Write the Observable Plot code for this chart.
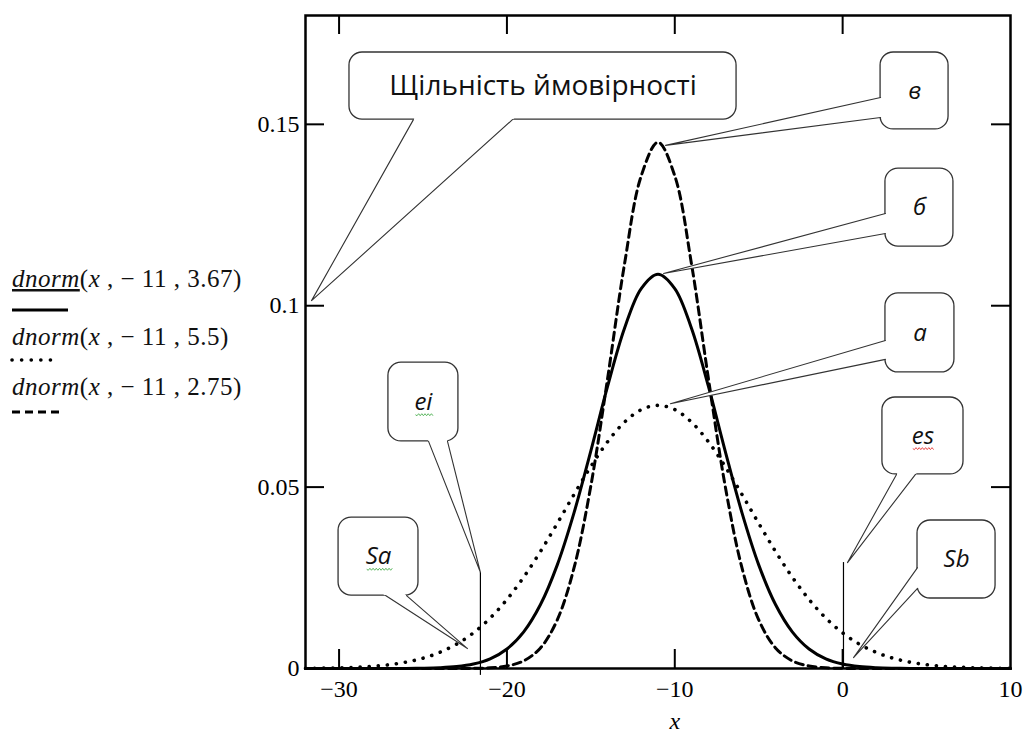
<!DOCTYPE html>
<html><head><meta charset="utf-8">
<script src="https://cdn.jsdelivr.net/npm/d3@7"></script>
<script src="https://cdn.jsdelivr.net/npm/@observablehq/plot@0.6"></script>
<style>
html,body{margin:0;padding:0;background:#fff;}
#wrap{position:relative;width:1030px;height:740px;overflow:hidden;background:#fff;}
#chart{position:absolute;left:0;top:0;}
#legend{position:absolute;left:0;top:0;}
</style></head><body>
<div id="wrap"><div id="chart"></div><svg id="legend" width="300" height="740"></svg></div>
<script>
// ---- data ----
const xValues = [-32,-31,-30,-29,-28,-27,-26,-25,-24,-23,-22,-21,-20,-19,-18,-17,-16,-15,-14,-13,-12,-11,-10,-9,-8,-7,-6,-5,-4,-3,-2,-1,0,1,2,3,4,5,6,7,8,9,10];
const densitySd367 = [0,0,0,0,0,0.00001,0.00003,0.00008,0.00021,0.00052,0.00122,0.00265,0.00537,0.01010,0.01763,0.02857,0.04297,0.06002,0.07782,0.09370,0.10474,0.10870,0.10474,0.09370,0.07782,0.06002,0.04297,0.02857,0.01763,0.01010,0.00537,0.00265,0.00122,0.00052,0.00021,0.00008,0.00003,0.00001,0,0,0,0,0];
const densitySd55 = [0.00005,0.00010,0.00019,0.00034,0.00061,0.00105,0.00176,0.00284,0.00444,0.00671,0.00982,0.01389,0.01902,0.02519,0.03227,0.04001,0.04799,0.05568,0.06251,0.06790,0.07135,0.07254,0.07135,0.06790,0.06251,0.05568,0.04799,0.04001,0.03227,0.02519,0.01902,0.01389,0.00982,0.00671,0.00444,0.00284,0.00176,0.00105,0.00061,0.00034,0.00019,0.00010,0.00005];
const densitySd275 = [0,0,0,0,0,0,0,0,0,0.00001,0.00005,0.00020,0.00069,0.00211,0.00568,0.01342,0.02778,0.05037,0.08001,0.11136,0.13579,0.14507,0.13579,0.11136,0.08001,0.05037,0.02778,0.01342,0.00568,0.00211,0.00069,0.00020,0.00005,0.00001,0,0,0,0,0,0,0,0,0];
const seriesArgs = ["3.67","5.5","2.75"];
const xTicks = [-30,-20,-10,0,10];
const yTicks = [0,0.05,0.1,0.15];
const xDomain = [-32,10];
const yDomain = [0,0.18];
const axisLabelX = "x";
const axisLabelAt = -10;

const boundaryNames = ["ei","es"];
const boundaryX = [-21.58, 0.05];
const boundaryTop = [0.0265, 0.0292];
const boundaryBottom = [-0.0019, 0];

const calloutLabels = ["Щільність ймовірності","в","б","а","ei","es","Sa","Sb"];
const boxLeft   = [-29.38, 2.26, 2.55, 2.55, -27.06, 2.37, -30.03, 4.46];
const boxRight  = [-6.32, 6.31, 6.60, 6.66, -22.89, 7.20, -25.27, 9.11];
const boxTop    = [0.1698, 0.1698, 0.1378, 0.1034, 0.0843, 0.0747, 0.0416, 0.0408];
const boxBottom = [0.1513, 0.1486, 0.1163, 0.0816, 0.0626, 0.0535, 0.0201, 0.0193];
const tipX  = [-31.64, -10.55, -10.67, -10.26, -21.58, 0.29, -22.35, 0.65];
const tipY  = [0.1014, 0.1442, 0.1089, 0.0730, 0.0265, 0.0292, 0.0055, 0.0030];
const base1X = [-25.57, 2.26, 2.55, 2.55, -24.67, 3.21, -27.23, 4.46];
const base1Y = [0.1513, 0.1574, 0.1254, 0.0904, 0.0626, 0.0535, 0.0201, 0.0278];
const base2X = [-19.67, 2.26, 2.55, 2.55, -23.54, 4.34, -25.98, 4.46];
const base2Y = [0.1513, 0.1519, 0.1199, 0.0852, 0.0626, 0.0535, 0.0201, 0.0221];
const squiggleColors = {ei: "#4caf50", Sa: "#4caf50", es: "#e53935"};

// ---- layout ----
const W = 1030, H = 740, mL = 305, mR = 20, mT = 15, mB = 72;
const fw = W - mL - mR, fh = H - mT - mB, tickLen = 19;

const s367 = xValues.map((x,i)=>({x, y: densitySd367[i]}));
const s55  = xValues.map((x,i)=>({x, y: densitySd55[i]}));
const s275 = xValues.map((x,i)=>({x, y: densitySd275[i]}));

const boxes = calloutLabels.map((label,i)=>({label, i,
  x1: boxLeft[i], x2: boxRight[i], y1: boxBottom[i], y2: boxTop[i],
  cx: (boxLeft[i]+boxRight[i])/2, cy: (boxTop[i]+boxBottom[i])/2}));
const k = 0.045;
const tailFill = calloutLabels.flatMap((label,i)=>[
  {i, x: base1X[i] + (base1X[i]-tipX[i])*k, y: base1Y[i] + (base1Y[i]-tipY[i])*k},
  {i, x: tipX[i], y: tipY[i]},
  {i, x: base2X[i] + (base2X[i]-tipX[i])*k, y: base2Y[i] + (base2Y[i]-tipY[i])*k}]);
const tailStroke = calloutLabels.flatMap((label,i)=>[
  {i, x: base1X[i], y: base1Y[i]}, {i, x: tipX[i], y: tipY[i]}, {i, x: base2X[i], y: base2Y[i]}]);
const boundaries = boundaryNames.map((n,i)=>({n, x: boundaryX[i], y1: boundaryBottom[i], y2: boundaryTop[i]}));

const fmtX = d => d < 0 ? "\u2212" + (-d) : String(d);
const fmtY = d => d === 0 ? "0" : String(d);
const inner = xTicks.filter(d => d > xDomain[0] && d < xDomain[1]);
const innerY = yTicks.filter(d => d > yDomain[0] && d < yDomain[1]);
const bubbleFont = "'Open Sans', 'Noto Sans', sans-serif";

const plot = Plot.plot({
  width: W, height: H,
  marginLeft: mL, marginRight: mR, marginTop: mT, marginBottom: mB,
  x: {domain: xDomain, label: null},
  y: {domain: yDomain, label: null},
  style: {fontFamily: "'Liberation Serif', 'Times New Roman', serif", fontSize: "24px", color: "black", background: "white"},
  marks: [
    Plot.line(s55, {x: "x", y: "y", stroke: "black", strokeWidth: 3.6, strokeDasharray: "0.1 9", strokeLinecap: "round", curve: "catmull-rom"}),
    Plot.line(s275, {x: "x", y: "y", stroke: "black", strokeWidth: 3, strokeDasharray: "8 5", curve: "catmull-rom"}),
    Plot.line(s367, {x: "x", y: "y", stroke: "black", strokeWidth: 3, curve: "catmull-rom"}),
    Plot.ruleX(boundaries, {x: "x", y1: "y1", y2: "y2", stroke: "black", strokeWidth: 1.2}),
    Plot.ruleX(inner, {x: d => d, insetTop: fh - tickLen, stroke: "black", strokeWidth: 2}),
    Plot.ruleX(inner, {x: d => d, insetBottom: fh - tickLen, stroke: "black", strokeWidth: 2}),
    Plot.ruleY(innerY, {y: d => d, insetRight: fw - tickLen, stroke: "black", strokeWidth: 2}),
    Plot.ruleY(innerY, {y: d => d, insetLeft: fw - tickLen, stroke: "black", strokeWidth: 2}),
    Plot.frame({stroke: "black", strokeWidth: 2.5}),
    Plot.axisX(xTicks, {tickSize: 0, tickPadding: 11, tickFormat: fmtX, label: null}),
    Plot.axisY(yTicks, {tickSize: 0, tickPadding: 6, tickFormat: fmtY, label: null}),
    Plot.text([axisLabelX], {x: () => axisLabelAt, frameAnchor: "bottom", dy: 60, fontStyle: "italic", fontSize: 24, fill: "black"}),
    Plot.rect(boxes, {x1: "x1", x2: "x2", y1: "y1", y2: "y2", rx: 13, fill: "white", stroke: "#333", strokeWidth: 1.3}),
    Plot.line(tailFill, {x: "x", y: "y", z: "i", fill: "white", stroke: "none"}),
    Plot.line(tailStroke, {x: "x", y: "y", z: "i", stroke: "#333", strokeWidth: 1.1}),
    Plot.text(boxes.filter(d => d.i === 0), {x: "cx", y: "cy", text: "label", fontFamily: bubbleFont, fontSize: 28, fill: "#111"}),
    Plot.text(boxes.filter(d => d.i > 0), {x: "cx", y: "cy", text: "label", fontFamily: bubbleFont, fontSize: 24, fontStyle: "italic", fill: "#111"})
  ]
});
document.getElementById("chart").appendChild(plot);

// spell-check style wavy underlines under some labels
d3.select(plot).selectAll("text").each(function(){
  const t = this.textContent;
  const col = squiggleColors[t];
  if (!col) return;
  const b = this.getBBox();
  const y0 = b.y + b.height - 2, x0 = b.x + 1, x1 = b.x + b.width - 1;
  let dstr = `M${x0},${y0}`;
  for (let x = x0, j = 0; x < x1; x += 1.6, j++) dstr += `L${x + 1.6},${y0 + (j % 2 ? -1 : 1)}`;
  const p = d3.select(this.parentNode).append("path").attr("d", dstr).attr("fill", "none")
    .attr("stroke", col).attr("stroke-width", 0.9);
  const tr = this.getAttribute("transform");
  if (tr) p.attr("transform", tr);
});

// ---- legend (left, outside the plot frame) ----
const leg = d3.select("#legend");
const legStyles = [
  {dash: null, w: 3, cap: "butt", x2: 68},
  {dash: "0.1 9.5", w: 3.6, cap: "round", x2: 60},
  {dash: "8 5", w: 3, cap: "butt", x2: 64}
];
const legBase = [287, 345, 395];
const legLine = [310, 360, 412];
seriesArgs.forEach((a, i) => {
  const t = leg.append("text").attr("x", 12).attr("y", legBase[i])
    .attr("font-family", "'Liberation Serif', 'Times New Roman', serif").attr("font-size", 25)
    .attr("letter-spacing", 0.5).attr("fill", "#111");
  const dn = t.append("tspan").attr("font-style", "italic").text("dnorm");
  if (i === 0) dn.style("text-decoration", "underline");
  t.append("tspan").text("(");
  t.append("tspan").attr("font-style", "italic").text("x");
  t.append("tspan").text(" , \u2212 11 , " + a + ")");
  const st = legStyles[i];
  leg.append("line").attr("x1", 12).attr("x2", st.x2).attr("y1", legLine[i]).attr("y2", legLine[i])
    .attr("stroke", "black").attr("stroke-width", st.w).attr("stroke-linecap", st.cap)
    .attr("stroke-dasharray", st.dash);
});
</script>
</body></html>
